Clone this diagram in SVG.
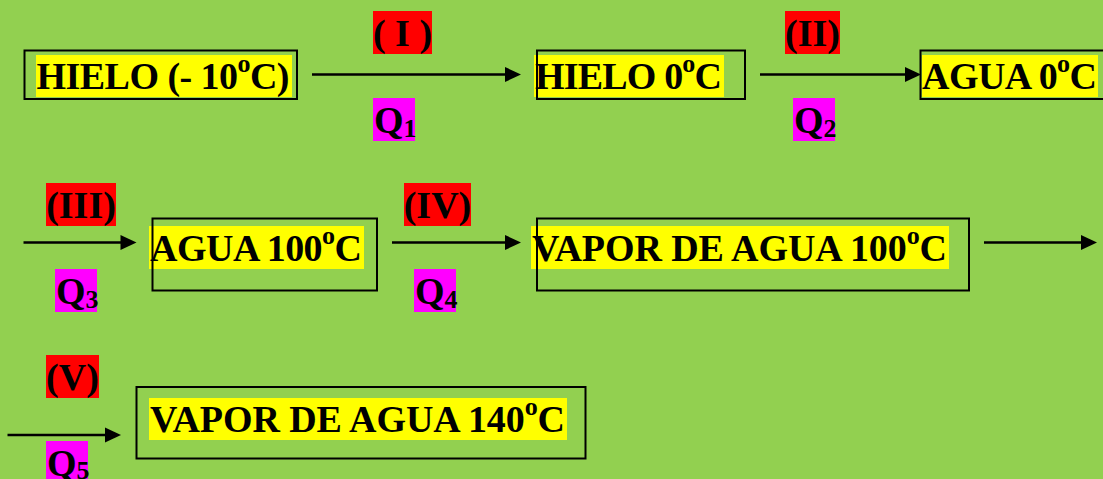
<svg xmlns="http://www.w3.org/2000/svg" width="1103" height="479" viewBox="0 0 1103 479">
<style>
.t{font-family:"Liberation Serif","Times New Roman",serif;font-weight:bold;font-size:38px;fill:#000}
.box{fill:none;stroke:#000;stroke-width:2}
.hl{fill:#FFFF00}
.red{fill:#FF0000}
.mag{fill:#FF00FF}
.ln{stroke:#000;stroke-width:2.5;fill:none}
.hd{fill:#000}
</style>
<rect x="0" y="0" width="1103" height="479" fill="#92D050"/>

<g id="connectors">
<line class="ln" x1="312" y1="74.5" x2="507" y2="74.5"/><polygon class="hd" points="505,67 521,74.5 505,82"/>
<line class="ln" x1="760" y1="74.5" x2="907" y2="74.5"/><polygon class="hd" points="905,67 921,74.5 905,82"/>
<line class="ln" x1="23.5" y1="242.5" x2="122" y2="242.5"/><polygon class="hd" points="120.5,235 136.5,242.5 120.5,250"/>
<line class="ln" x1="392" y1="242.5" x2="507" y2="242.5"/><polygon class="hd" points="505,235 521,242.5 505,250"/>
<line class="ln" x1="984" y1="242.5" x2="1083" y2="242.5"/><polygon class="hd" points="1081,235 1097,242.5 1081,250"/>
<line class="ln" x1="7.5" y1="435" x2="107" y2="435"/><polygon class="hd" points="105,427.5 121,435 105,442.5"/>
</g>

<g id="label-I"><rect class="red" x="373" y="11" width="59" height="43"/><text class="t" x="402.5" y="46" text-anchor="middle">( I )</text></g>
<g id="label-Q1"><rect class="mag" x="373" y="98" width="42" height="43"/><text class="t" x="374" y="133">Q<tspan font-size="26" dy="4">1</tspan></text></g>
<g id="label-II"><rect class="red" x="785" y="11" width="55" height="43"/><text class="t" x="812.5" y="46" text-anchor="middle">(II)</text></g>
<g id="label-Q2"><rect class="mag" x="793" y="98" width="42" height="43"/><text class="t" x="794" y="133">Q<tspan font-size="26" dy="4">2</tspan></text></g>
<g id="label-III"><rect class="red" x="46" y="183" width="70" height="43"/><text class="t" x="81" y="218" text-anchor="middle">(III)</text></g>
<g id="label-Q3"><rect class="mag" x="55" y="269" width="42" height="43"/><text class="t" x="56" y="304">Q<tspan font-size="26" dy="4">3</tspan></text></g>
<g id="label-IV"><rect class="red" x="404" y="183" width="67" height="43"/><text class="t" x="437.5" y="218" text-anchor="middle">(IV)</text></g>
<g id="label-Q4"><rect class="mag" x="414" y="269" width="42" height="43"/><text class="t" x="415" y="304">Q<tspan font-size="26" dy="4">4</tspan></text></g>
<g id="label-V"><rect class="red" x="46" y="355" width="53" height="43"/><text class="t" x="72.5" y="390" text-anchor="middle">(V)</text></g>
<g id="label-Q5"><rect class="mag" x="46" y="441" width="42" height="43"/><text class="t" x="47" y="476">Q<tspan font-size="26" dy="3">5</tspan></text></g>

<g id="node-hielo-10">
<rect class="hl" x="36" y="55" width="256" height="42"/>
<rect class="box" x="24.5" y="50.5" width="272.5" height="48.5"/>
<text class="t" x="36.5" y="89" textLength="253">HIELO (- 10<tspan font-size="26" dy="-17">o</tspan><tspan dy="17">C)</tspan></text>
</g>
<g id="node-hielo-0">
<rect class="hl" x="534" y="55" width="190" height="42"/>
<rect class="box" x="537" y="50.5" width="208" height="48.5"/>
<text class="t" x="535" y="89" textLength="187">HIELO 0<tspan font-size="26" dy="-17">o</tspan><tspan dy="17">C</tspan></text>
</g>
<g id="node-agua-0">
<rect class="hl" x="922" y="55" width="176" height="42"/>
<rect class="box" x="920.5" y="50.5" width="200" height="48.5"/>
<text class="t" x="922" y="89" textLength="175">AGUA 0<tspan font-size="26" dy="-17">o</tspan><tspan dy="17">C</tspan></text>
</g>
<g id="node-agua-100">
<rect class="hl" x="149" y="226" width="215" height="43"/>
<rect class="box" x="152.5" y="218.5" width="224.5" height="72"/>
<text class="t" x="150" y="261" textLength="212">AGUA 100<tspan font-size="26" dy="-17">o</tspan><tspan dy="17">C</tspan></text>
</g>
<g id="node-vapor-100">
<rect class="hl" x="531" y="226" width="418" height="43"/>
<rect class="box" x="537" y="218.5" width="432" height="72"/>
<text class="t" x="532" y="261" textLength="415">VAPOR DE AGUA 100<tspan font-size="26" dy="-17">o</tspan><tspan dy="17">C</tspan></text>
</g>
<g id="node-vapor-140">
<rect class="hl" x="149" y="398" width="418" height="42"/>
<rect class="box" x="136.5" y="387" width="449" height="71.5"/>
<text class="t" x="150" y="432" textLength="415">VAPOR DE AGUA 140<tspan font-size="26" dy="-17">o</tspan><tspan dy="17">C</tspan></text>
</g>
</svg>
